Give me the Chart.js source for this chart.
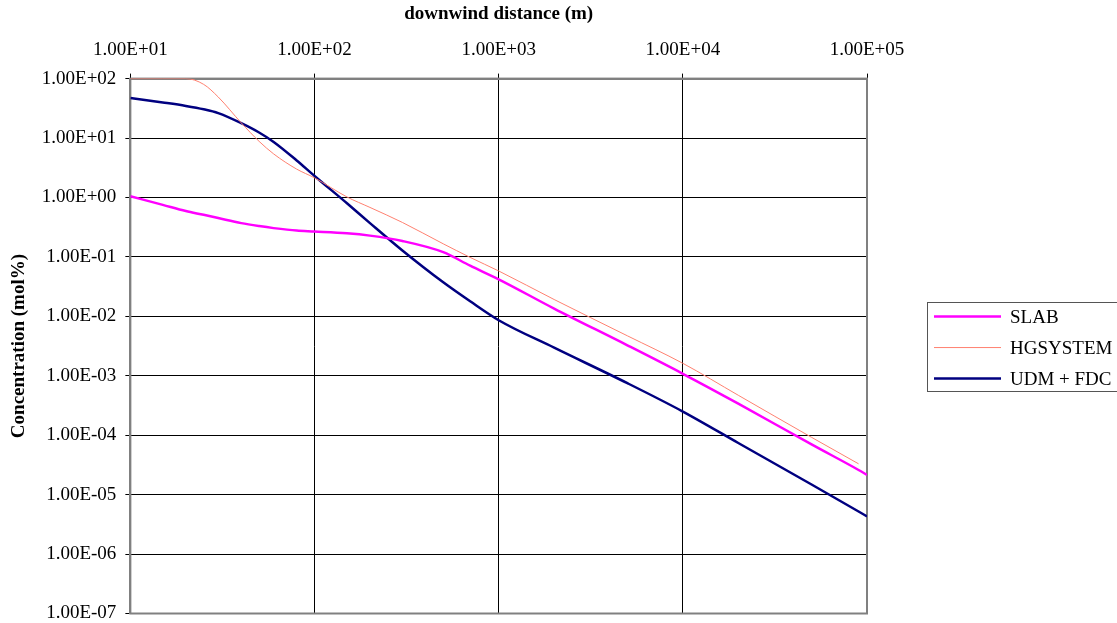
<!DOCTYPE html>
<html>
<head>
<meta charset="utf-8">
<title>Concentration vs downwind distance</title>
<script src="https://cdn.jsdelivr.net/npm/chart.js@4/dist/chart.umd.min.js"></script>
<style>
  html, body { margin: 0; padding: 0; background: #fff; }
  canvas { display: block; }
</style>
</head>
<body>
<canvas id="chartConc" width="1117" height="623"></canvas>
<script>
// downwind distance (m)
const distance = [10, 15, 20, 25, 30, 40, 50, 60, 80, 100, 150, 200, 300, 500, 700,
  1000, 2000, 5000, 10000, 20000, 50000, 90000, 100000];

// concentration (mol%)
const slab = [1.05, 0.75, 0.59, 0.51, 0.45, 0.37, 0.33, 0.305, 0.277, 0.268, 0.25, 0.228,
  0.185, 0.12, 0.071, 0.042, 0.0135, 3.25e-3, 1.08e-3, 3.4e-4, 7.0e-5, 2.6e-5, 2.15e-5];
const hgsystem = [100, 100, 100, 80, 49, 18, 8.8, 5.4, 3.0, 2.14, 1.02, 0.68,
  0.38, 0.166, 0.098, 0.058, 0.0192, 4.7e-3, 1.62e-3, 4.7e-4, 9.2e-5, 3.3e-5, null];
const udmFdc = [47, 39.6, 34.7, 30.5, 26.3, 17.8, 12.4, 8.6, 4.2, 2.3, 0.8, 0.37,
  0.128, 0.0373, 0.0179, 0.0086, 2.97e-3, 7.5e-4, 2.5e-4, 7.4e-5, 1.48e-5, 5.2e-6, 4.3e-6];

const seriesNames = ["SLAB", "HGSYSTEM", "UDM + FDC"];

const xTicks = [1e1, 1e2, 1e3, 1e4, 1e5];
const xTickLabels = ["1.00E+01", "1.00E+02", "1.00E+03", "1.00E+04", "1.00E+05"];
const yTicks = [1e-7, 1e-6, 1e-5, 1e-4, 1e-3, 1e-2, 1e-1, 1e0, 1e1, 1e2];
const yTickLabels = ["1.00E-07", "1.00E-06", "1.00E-05", "1.00E-04", "1.00E-03",
  "1.00E-02", "1.00E-01", "1.00E+00", "1.00E+01", "1.00E+02"];

const serif = "'Liberation Serif', 'Times New Roman', serif";

const toPoints = values => distance.map((d, i) => ({ x: d, y: values[i] }));

// plot frame plus a boxed legend to the right of the plot
const frameAndLegend = {
  id: "frameAndLegend",
  beforeDatasetsDraw(chart) {
    const { ctx, chartArea: a } = chart;
    ctx.save();
    ctx.strokeStyle = "#808080";
    ctx.lineWidth = 2;
    ctx.strokeRect(a.left, a.top, a.right - a.left, a.bottom - a.top);
    ctx.restore();
  },
  afterDraw(chart) {
    const { ctx, chartArea: a } = chart;
    const sets = chart.data.datasets;
    const rowH = 31;
    const boxH = sets.length * rowH - 4;
    const left = a.right + 60;
    const top = (a.top + a.bottom) / 2 - boxH / 2;
    ctx.save();
    ctx.strokeStyle = "#555";
    ctx.lineWidth = 1;
    ctx.strokeRect(left + 0.5, Math.round(top) + 0.5, 220, Math.round(boxH));
    ctx.font = "19px " + serif;
    ctx.textBaseline = "middle";
    ctx.fillStyle = "#000";
    sets.forEach((ds, i) => {
      const y = top + 15 + i * rowH;
      ctx.beginPath();
      ctx.strokeStyle = ds.borderColor;
      ctx.lineWidth = ds.borderWidth;
      ctx.moveTo(left + 7, y);
      ctx.lineTo(left + 74, y);
      ctx.stroke();
      ctx.fillText(ds.label, left + 83, y + 1);
    });
    ctx.restore();
  },
};

const chart = new Chart(document.getElementById("chartConc").getContext("2d"), {
  type: "line",
  data: {
    datasets: [
      {
        label: seriesNames[0],
        data: toPoints(slab),
        borderColor: "#FF00FF",
        borderWidth: 2.5,
      },
      {
        label: seriesNames[1],
        data: toPoints(hgsystem),
        borderColor: "#FF8070",
        borderWidth: 1,
      },
      {
        label: seriesNames[2],
        data: toPoints(udmFdc),
        borderColor: "#000080",
        borderWidth: 2.5,
      },
    ],
  },
  options: {
    responsive: false,
    animation: false,
    cubicInterpolationMode: "monotone",
    pointRadius: 0,
    layout: {
      autoPadding: false,
      padding: { top: 0, left: 0, right: 250, bottom: 9.5 },
    },
    plugins: {
      legend: { display: false },
      tooltip: { enabled: false },
    },
    scales: {
      x: {
        type: "logarithmic",
        position: "top",
        min: xTicks[0],
        max: xTicks[xTicks.length - 1],
        afterBuildTicks: scale => {
          scale.ticks = xTicks.map(v => ({ value: v }));
        },
        grid: { color: "#000", lineWidth: 1, tickLength: 5, tickColor: "#000" },
        border: { color: "#808080", width: 2 },
        ticks: {
          color: "#000",
          font: { family: serif, size: 19 },
          padding: 12.5,
          maxRotation: 0,
          autoSkip: false,
          callback: (value, index) => xTickLabels[index],
        },
        title: {
          display: true,
          text: "downwind distance (m)",
          color: "#000",
          font: { family: serif, size: 19, weight: "bold" },
          padding: { top: 3, bottom: 0 },
        },
      },
      y: {
        type: "logarithmic",
        min: yTicks[0],
        max: yTicks[yTicks.length - 1],
        afterBuildTicks: scale => {
          scale.ticks = yTicks.map(v => ({ value: v }));
        },
        grid: { color: "#000", lineWidth: 1, tickLength: 5, tickColor: "#000" },
        border: { color: "#808080", width: 2 },
        ticks: {
          color: "#000",
          // tiny lineHeight keeps the end labels from shrinking the plot
          font: { family: serif, size: 19, lineHeight: 0.05 },
          padding: 9,
          autoSkip: false,
          callback: (value, index) => yTickLabels[index],
        },
        title: {
          display: true,
          text: "Concentration (mol%)",
          color: "#000",
          font: { family: serif, size: 19, weight: "bold" },
          padding: { top: 8, bottom: 2 },
        },
      },
    },
  },
  plugins: [frameAndLegend],
});
</script>
</body>
</html>
